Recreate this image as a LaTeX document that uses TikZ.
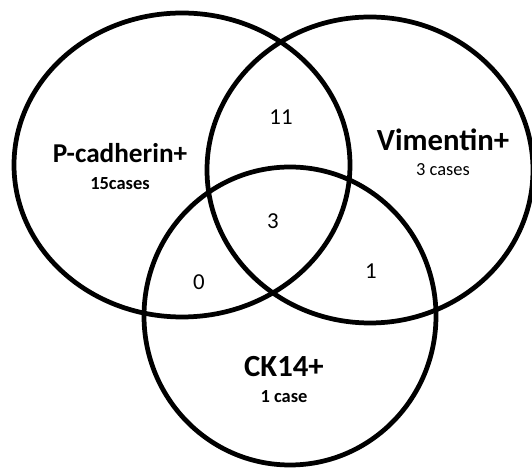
\documentclass[tikz,border=0pt]{standalone}
\usepackage{fontspec}
\setmainfont{Carlito}
\usepackage{tikz}
\usetikzlibrary{positioning}

\tikzset{
  setline/.style = {line width=2.7pt},
  setname/.style = {font=\bfseries\fontsize{17.5}{20}\selectfont, inner sep=0pt},
  setcount/.style = {font=\bfseries\fontsize{10.5}{12}\selectfont, inner sep=0pt},
  overlap/.style = {font=\fontsize{13}{15}\selectfont, inner sep=0pt}
}

\begin{document}
\begin{tikzpicture}[x=0.02cm, y=-0.02cm]
        \useasboundingbox (0,0) rectangle (532,469);
        % the three sets
        \coordinate (pcad) at (182,165);
        \coordinate (vim) at (370,170);
        \coordinate (ck) at (290,316);
        \draw[setline] (pcad) ellipse [x radius=168, y radius=152];
        \draw[setline] (vim) ellipse [x radius=163, y radius=153];
        \draw[setline] (ck) ellipse [x radius=146, y radius=149];

        \node[setname, font=\bfseries\fontsize{15.5}{18}\selectfont] (pname) at (120,153) {P-cadherin+};
        \node[setcount, below = 8pt of pname] (pcount) {15cases};
        \node[setname] (vname) at (443,140) {Vimentin+};
        \node[setcount, below = 7pt of vname, font=\fontsize{10.5}{12}\selectfont] (vcount) {3 cases};
        \node[setname] (cname) at (284,367) {CK14+};
        \node[setcount, below = 7pt of cname] (ccount) {1 case};

        % overlaps
        \node[overlap] (pv) at (281,117) {11};
        \node[overlap] (pvc) at (273,221) {3};
        \node[overlap] (pc) at (199,282) {0};
        \node[overlap] (vc) at (371,271) {1};
    \end{tikzpicture}
\end{document}
